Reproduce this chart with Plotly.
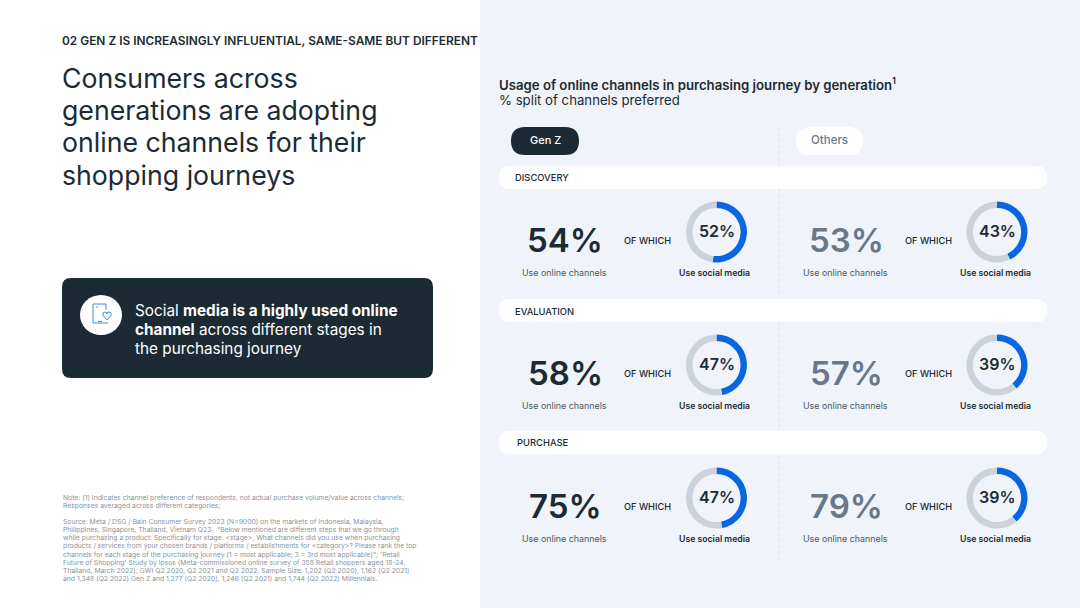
import plotly.graph_objects as go

W = 1080
H = 608

stages = ["DISCOVERY", "EVALUATION", "PURCHASE"]
genz_online = [54, 58, 75]
genz_social = [52, 47, 47]
others_online = [53, 57, 79]
others_social = [43, 39, 39]

headline = ["Consumers across", "generations are adopting", "online channels for their", "shopping journeys"]
callout = ["Social <b>media is a highly used online</b>", "<b>channel</b> across different stages in", "the purchasing journey"]
note_lines = [
    "Note: (1) Indicates channel preference of respondents, not actual purchase volume/value across channels;",
    "Responses averaged across different categories;",
    "",
    "Source: Meta / DSG / Bain Consumer Survey 2023 (N=9000) on the markets of Indonesia, Malaysia,",
    "Philippines, Singapore, Thailand, Vietnam Q23:  \"Below mentioned are different steps that we go through",
    "while purchasing a product: Specifically for stage: &lt;stage&gt;, What channels did you use when purchasing",
    "products / services from your chosen brands / platforms / establishments for &lt;category&gt;? Please rank the top",
    "channels for each stage of the purchasing journey (1 = most applicable; 3 = 3rd most applicable)\"; 'Retail",
    "Future of Shopping' Study by Ipsos (Meta-commissioned online survey of 358 Retail shoppers aged 18-24,",
    "Thailand, March 2022); GWI Q2 2020, Q2 2021 and Q2 2022. Sample Size: 1,202 (Q2 2020), 1,162 (Q2 2021)",
    "and 1,348 (Q2 2022) Gen Z and 1,377 (Q2 2020), 1,246 (Q2 2021) and 1,744 (Q2 2022) Millennials.",
]

DARK = "#1c2b33"
SLATE = "#67788a"
BLUE = "#0866e0"
RING = "#cbd2d9"
PANEL = "#f0f3f9"
FONT = "Inter"


def px(x):
    return x / W


def py(y):
    return 1 - y / H


def rounded(x0, y0, x1, y1, r):
    return (
        f"M {px(x0 + r)} {py(y0)} L {px(x1 - r)} {py(y0)} "
        f"Q {px(x1)} {py(y0)} {px(x1)} {py(y0 + r)} L {px(x1)} {py(y1 - r)} "
        f"Q {px(x1)} {py(y1)} {px(x1 - r)} {py(y1)} L {px(x0 + r)} {py(y1)} "
        f"Q {px(x0)} {py(y1)} {px(x0)} {py(y1 - r)} L {px(x0)} {py(y0 + r)} "
        f"Q {px(x0)} {py(y0)} {px(x0 + r)} {py(y0)} Z"
    )


shapes = []
annotations = []


def box(x0, y0, x1, y1, color, r=0):
    shapes.append(dict(type="path", xref="paper", yref="paper", path=rounded(x0, y0, x1, y1, r),
                       fillcolor=color, line=dict(width=0), layer="below"))


def vline(x, y0, y1):
    shapes.append(dict(type="line", xref="paper", yref="paper", x0=px(x), x1=px(x), y0=py(y0), y1=py(y1),
                       line=dict(color="#dde1e8", width=1, dash="3px,3px"), layer="below"))


def text(x, y, s, size, color=DARK, anchor="left", weight=400):
    annotations.append(dict(xref="paper", yref="paper", x=px(x), y=py(y), text=s, showarrow=False,
                            xanchor=anchor, yanchor="middle", align=anchor, borderpad=0, borderwidth=0,
                            font=dict(family=FONT, size=size, color=color, weight=weight)))


fig = go.Figure()


def donut(cx, cy, value):
    r = 30.5
    fig.add_trace(go.Pie(values=[value, 100 - value], sort=False, direction="clockwise", rotation=0,
                         hole=0.79, textinfo="none", hoverinfo="skip", showlegend=False,
                         marker=dict(colors=[BLUE, RING], line=dict(width=0)),
                         domain=dict(x=[px(cx - r), px(cx + r)], y=[py(cy + r), py(cy - r)])))


# right panel
box(480, 0, 1080, 608, PANEL)
text(62, 40.5, "02 GEN Z IS INCREASINGLY INFLUENTIAL, SAME-SAME BUT DIFFERENT", 11.9, weight=600)

# headline
for i, line in enumerate(headline):
    text(61.5, 77.7 + i * 32.3, line, 26.7, weight=400)

# callout
box(62, 278, 433, 378, DARK, 9)
shapes.append(dict(type="circle", xref="paper", yref="paper", x0=px(80), x1=px(122), y0=py(295), y1=py(335),
                   fillcolor="#ffffff", line=dict(width=0), layer="below"))
for i, line in enumerate(callout):
    text(135, 310.5 + i * 19, line, 15.3, color="#ffffff")

# icon, drawn as outline
ICON = "#3b8ae8"
shapes.append(dict(type="path", xref="paper", yref="paper",
                   path=(f"M {px(108)} {py(323)} L {px(93)} {py(323)} L {px(93)} {py(304)} "
                         f"L {px(106)} {py(304)} L {px(106)} {py(310)}"),
                   line=dict(color=ICON, width=1), layer="above"))
shapes.append(dict(type="path", xref="paper", yref="paper",
                   path=(f"M {px(107)} {py(320)} L {px(103)} {py(315.5)} Q {px(102)} {py(312)} {px(105)} {py(312)} "
                         f"Q {px(107)} {py(312)} {px(107)} {py(314)} Q {px(107)} {py(312)} {px(109)} {py(312)} "
                         f"Q {px(112)} {py(312)} {px(111)} {py(315.5)} Z"),
                   line=dict(color=ICON, width=1), layer="above"))
shapes.append(dict(type="line", xref="paper", yref="paper", x0=px(98), x1=px(102), y0=py(321.5), y1=py(321.5),
                   line=dict(color=ICON, width=1), layer="above"))
shapes.append(dict(type="line", xref="paper", yref="paper", x0=px(97), x1=px(97), y0=py(306), y1=py(308),
                   line=dict(color=ICON, width=1), layer="above"))

# notes
for i, line in enumerate(note_lines):
    if line:
        text(63, 497.3 + i * 8.1, line, 6.8, color="#89949c")

# panel title
text(499, 84, "Usage of online channels in purchasing journey by generation<sup>1</sup>", 13.2, weight=600)
text(499, 100, "% split of channels preferred", 13.2)

# column pills
box(511, 127, 579, 155, DARK, 14)
text(545, 140, "Gen Z", 11, color="#ffffff", anchor="center", weight=500)
box(796, 127, 863, 155, "#ffffff", 14)
text(829.5, 140, "Others", 11.5, color=SLATE, anchor="center", weight=500)

vline(779, 127, 166)
band_tops = [166, 299, 431]
row_offsets = [232, 365, 498]
for top in band_tops:
    box(499, top, 1047, top + 23, "#ffffff", 11)
vline(779, 189, 296)
vline(779, 322, 428)
vline(779, 455, 560)

stage_x = [515, 515, 517]
stage_y = [177.5, 311, 443]
for i, stage in enumerate(stages):
    text(stage_x[i], stage_y[i], stage, 9.4, weight=500)
    cy = row_offsets[i]
    # Gen Z column
    text(565, cy + 7.5, f"{genz_online[i]}%", 33, anchor="center", weight=600)
    text(564, cy + 40.7, "Use online channels", 8.9, color="#4b5963", anchor="center")
    text(647.5, cy + 8.5, "OF WHICH", 9.2, anchor="center", weight=500)
    donut(716.5, cy, genz_social[i])
    text(716.5, cy - 1.3, f"{genz_social[i]}%", 16, anchor="center", weight=600)
    text(714.5, cy + 41, "Use social media", 8.7, anchor="center", weight=600)
    # Others column
    text(846, cy + 7.5, f"{others_online[i]}%", 33, color=SLATE, anchor="center", weight=600)
    text(845, cy + 40.7, "Use online channels", 8.9, color="#4b5963", anchor="center")
    text(928, cy + 8.5, "OF WHICH", 9.2, anchor="center", weight=500)
    donut(997, cy, others_social[i])
    text(997, cy - 1.3, f"{others_social[i]}%", 16, anchor="center", weight=600)
    text(995, cy + 41, "Use social media", 8.7, anchor="center", weight=600)

fig.update_layout(width=W, height=H, margin=dict(l=0, r=0, t=0, b=0), paper_bgcolor="#ffffff",
                  plot_bgcolor="rgba(0,0,0,0)", showlegend=False, shapes=shapes, annotations=annotations,
                  font=dict(family=FONT))
fig.write_html("out.html", config={"displayModeBar": False},
               post_script="document.body.style.margin='0';document.body.style.overflow='hidden';")
